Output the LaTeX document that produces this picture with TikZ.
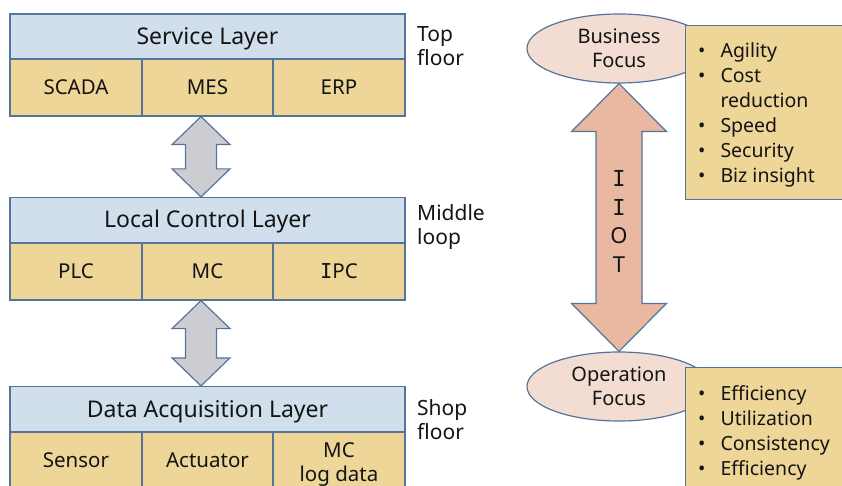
\documentclass[tikz,border=0pt]{standalone}
\usepackage{fontspec}
\setmainfont{Noto Sans}
\newfontfamily\slabI{DejaVu Sans Mono}
\usetikzlibrary{calc,shapes.geometric}
\definecolor{hdrblue}{RGB}{209,223,237}
\definecolor{cellgold}{RGB}{238,214,152}
\definecolor{edgec}{RGB}{84,116,155}
\definecolor{arrgrey}{RGB}{204,205,209}
\definecolor{focpink}{RGB}{243,221,210}
\definecolor{bigarr}{RGB}{233,184,160}
\definecolor{ink}{RGB}{20,20,20}
\newcommand\blkarrow[6]{%
  \draw[#1] (#2) -- ($(#2)+(#5,#4)$) -- ($(#2)+(#6,#4)$) -- ($(#3)+(#6,-#4)$)
   -- ($(#3)+(#5,-#4)$) -- (#3) -- ($(#3)+(-#5,-#4)$) -- ($(#3)+(-#6,-#4)$)
   -- ($(#2)+(-#6,#4)$) -- ($(#2)+(-#5,#4)$) -- cycle;}
\begin{document}
\begin{tikzpicture}[x=1pt,y=-1pt,
  every node/.style={text=ink, font=\fontsize{21}{24}\selectfont},
  hdr/.style={draw=edgec, fill=hdrblue, line width=1.2pt, minimum width=395pt, minimum height=45pt, inner sep=0pt,
    font=\fontsize{23}{26}\selectfont, text height=16pt, text depth=0pt},
  cell/.style={draw=edgec, fill=cellgold, line width=1.2pt, minimum height=57pt, inner sep=0pt, align=center,
    font=\fontsize{20.5}{24}\selectfont},
  cellone/.style={cell, text height=14.5pt, text depth=0pt},
  side/.style={anchor=west, align=left, inner sep=0pt},
  focus/.style={ellipse, draw=edgec, fill=focpink, line width=1.2pt, minimum width=184pt, minimum height=69pt, inner sep=0pt, align=center,
    font=\fontsize{20}{24}\selectfont},
  lstbox/.style={draw=edgec, fill=cellgold, line width=1.2pt, inner sep=0pt, anchor=north west},
  lst/.style={anchor=west, inner sep=0pt, font=\fontsize{19.5}{25}\selectfont},
  greyarr/.style={draw=edgec, fill=arrgrey, line width=1.2pt},
  pinkarr/.style={draw=edgec, fill=bigarr, line width=1.2pt}
]
\useasboundingbox (0,0) rectangle (842,486);
\clip (0,0) rectangle (842,486);
% Service layer
\node[hdr] (sh) at (207.5,36.5) {Service Layer};
\node[cellone, minimum width=132pt] (s1) at (76,87.5) {SCADA};
\node[cellone, minimum width=131pt] (s2) at (207.5,87.5) {MES};
\node[cellone, minimum width=132pt] (s3) at (339,87.5) {ERP};
% Local control layer
\node[hdr] (lh) at (207.5,220) {Local Control Layer};
\node[cellone, minimum width=132pt] (l1) at (76,271.5) {PLC};
\node[cellone, minimum width=131pt] (l2) at (207.5,271.5) {MC};
\node[cellone, minimum width=132pt] (l3) at (339,271.5) {{\slabI I}PC};
% Data acquisition layer
\node[hdr] (dh) at (207.5,409) {Data Acquisition Layer};
\node[cellone, minimum width=132pt] (d1) at (76,460.5) {Sensor};
\node[cellone, minimum width=131pt] (d2) at (207.5,460.5) {Actuator};
\node[cell, minimum width=132pt] (d3) at (339,460.5) {};
\node[align=center, inner sep=0pt, font=\fontsize{20.5}{24}\selectfont] (d3t) at ($(d3.center)+(0,4)$) {MC\\log data};
% side labels
\node[side] (t1) at (417,46) {Top\\floor};
\node[side] (t2) at (417,227.5) {Middle\\loop};
\node[side] (t3) at (417,420) {Shop\\floor};
% grey arrows
\coordinate (a1t) at ($(s2.south)+(-6.5,0)$);
\coordinate (a1b) at ($(lh.north)+(-6.5,0)$);
\coordinate (a2t) at ($(l2.south)+(-6.5,0)$);
\coordinate (a2b) at ($(dh.north)+(-6.5,0)$);
\blkarrow{greyarr}{a1t}{a1b}{28}{29}{15.5}
\blkarrow{greyarr}{a2t}{a2b}{28}{29}{15.5}
% right side
\node[focus] (bf) at (619,48.5) {Business\\Focus};
\node[focus] (of) at (619,386.5) {Operation\\Focus};
\blkarrow{pinkarr}{bf.south}{of.north}{48}{47.5}{23}
\node[align=center, inner sep=0pt, font=\fontsize{22}{28.7}\selectfont] (iiot) at (619,221.5) {{\slabI I}\\{\slabI I}\\O\\T};
\node[lstbox, minimum width=200pt, minimum height=174pt] (bx1) at (685,25) {};
\node[lst] (li1) at ($(bx1.west)+(13,2.5)$) {\begin{tabular}{@{}l@{\hspace{15pt}}l@{}}•&Agility\\•&Cost\\&reduction\\•&Speed\\•&Security\\•&Biz insight\end{tabular}};
\node[lstbox, minimum width=200pt, minimum height=125pt] (bx2) at (685,367) {};
\node[lst] (li2) at ($(bx2.west)+(13,2.5)$) {\begin{tabular}{@{}l@{\hspace{15pt}}l@{}}•&Efficiency\\•&Utilization\\•&Consistency\\•&Efficiency\end{tabular}};
\end{tikzpicture}
\end{document}
